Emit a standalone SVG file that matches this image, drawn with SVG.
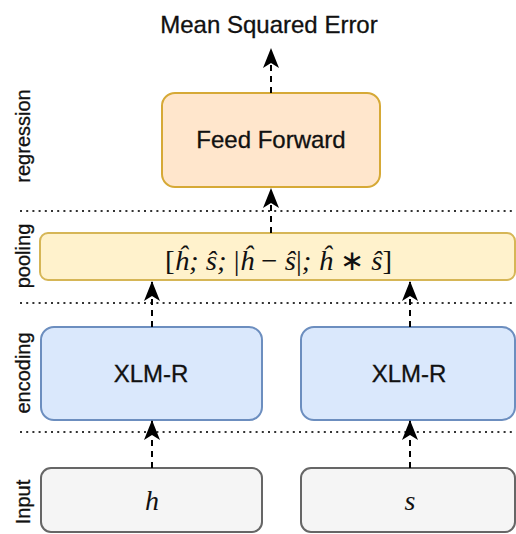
<svg xmlns="http://www.w3.org/2000/svg" width="516" height="534" viewBox="0 0 516 534">
  <style>
    .sans { font-family: "Liberation Sans", Arial, sans-serif; fill: #111; stroke: #111; stroke-width: 0.3; }
    .math { font-family: "Liberation Serif", "Times New Roman", serif; font-style: italic; fill: #111; }
    .side { font-family: "Liberation Sans", Arial, sans-serif; font-size: 20px; fill: #111; stroke: #111; stroke-width: 0.3; text-anchor: middle; }
    .sep { stroke: #333; stroke-width: 2; stroke-dasharray: 2 4.2; fill: none; }
    .conn { stroke: #000; stroke-width: 2; stroke-dasharray: 6 5; fill: none; marker-end: url(#arrow); }
  </style>
  <defs>
    <marker id="arrow" markerUnits="userSpaceOnUse" viewBox="0 -8 20 16" markerWidth="20" markerHeight="16" refX="19" refY="0" orient="auto">
      <path d="M0,-8 L20,0 L0,8 L5,0 Z" fill="#000"/>
    </marker>
  </defs>
  <rect width="516" height="534" fill="#fff"/>

  <!-- separators -->
  <g id="separators">
    <line class="sep" x1="20" y1="211" x2="516" y2="211"/>
    <line class="sep" x1="20" y1="303" x2="516" y2="303"/>
    <line class="sep" x1="20" y1="432" x2="516" y2="432"/>
  </g>

  <!-- side labels -->
  <g id="labels">
    <text class="side" transform="translate(30,136) rotate(-90)">regression</text>
    <text class="side" transform="translate(30,256) rotate(-90)">pooling</text>
    <text class="side" transform="translate(30,373) rotate(-90)">encoding</text>
    <text class="side" transform="translate(30,502) rotate(-90)">Input</text>
  </g>

  <g id="title">
    <text class="sans" x="269" y="33" font-size="24" text-anchor="middle">Mean Squared Error</text>
  </g>

  <g id="feed-forward">
    <rect x="162" y="93" width="218" height="94" rx="13" fill="#ffe6cc" stroke="#d6a936" stroke-width="2"/>
    <text class="sans" x="271" y="148" font-size="24" text-anchor="middle">Feed Forward</text>
  </g>

  <g id="pooling">
    <rect x="40" y="233" width="475" height="47" rx="8" fill="#fff2cc" stroke="#d6b656" stroke-width="2"/>
    <text class="math" x="165" y="270" font-size="28" textLength="227" lengthAdjust="spacingAndGlyphs"><tspan font-style="normal">[</tspan>ĥ; ŝ; <tspan font-style="normal">|</tspan>ĥ <tspan font-style="normal">−</tspan> ŝ<tspan font-style="normal">|</tspan>; ĥ <tspan font-style="normal">∗</tspan> ŝ<tspan font-style="normal">]</tspan></text>
  </g>

  <g id="xlmr-left">
    <rect x="41" y="327" width="221" height="93" rx="13" fill="#dae8fc" stroke="#6c8ebf" stroke-width="2"/>
    <text class="sans" x="151" y="382" font-size="24" text-anchor="middle">XLM-R</text>
  </g>

  <g id="xlmr-right">
    <rect x="301" y="327" width="214" height="93" rx="13" fill="#dae8fc" stroke="#6c8ebf" stroke-width="2"/>
    <text class="sans" x="409" y="382" font-size="24" text-anchor="middle">XLM-R</text>
  </g>

  <g id="input-h">
    <rect x="41" y="468" width="221" height="64" rx="10" fill="#f5f5f5" stroke="#666666" stroke-width="2"/>
    <text class="math" x="152" y="510" font-size="28" text-anchor="middle">h</text>
  </g>

  <g id="input-s">
    <rect x="301" y="468" width="214" height="64" rx="10" fill="#f5f5f5" stroke="#666666" stroke-width="2"/>
    <text class="math" x="410" y="510" font-size="28" text-anchor="middle">s</text>
  </g>

  <g id="connectors">
    <line class="conn" x1="271" y1="93" x2="271" y2="49"/>
    <line class="conn" x1="271" y1="233" x2="271" y2="189"/>
    <line class="conn" x1="152" y1="327" x2="152" y2="282"/>
    <line class="conn" x1="410" y1="327" x2="410" y2="282"/>
    <line class="conn" x1="152" y1="468" x2="152" y2="421"/>
    <line class="conn" x1="410" y1="468" x2="410" y2="421"/>
  </g>
</svg>
